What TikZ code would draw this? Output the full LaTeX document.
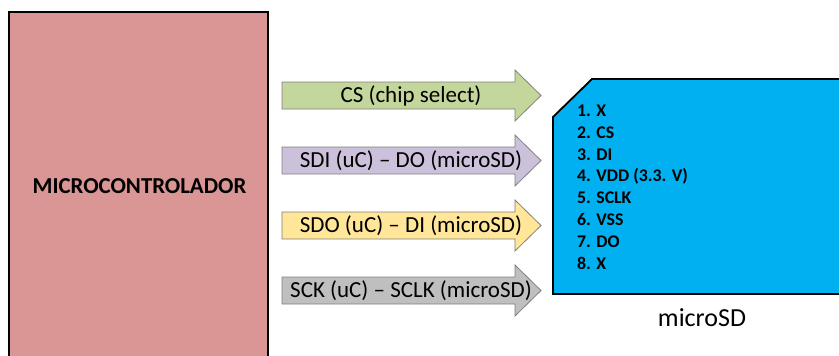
\documentclass[tikz,border=0pt]{standalone}
\usepackage{fontspec}
\setmainfont{Carlito}
\definecolor{mcured}{HTML}{D99694}
\definecolor{sdblue}{HTML}{00B0F0}
\definecolor{csgreen}{HTML}{C3D69B}
\definecolor{sdipurple}{HTML}{CCC1DA}
\definecolor{sdoyellow}{HTML}{FFE699}
\definecolor{sckgray}{HTML}{BFBFBF}
\definecolor{arrowedge}{HTML}{7F7F7F}
\tikzset{
  sigarrow/.style={draw=arrowedge, line width=0.8pt, line join=miter},
  sigtext/.style={font=\fontsize{23}{26}\selectfont, inner sep=0pt},
}
% signal arrow: #1 name, #2 centre y, #3 fill, #4 label
\newcommand{\signalarrow}[4]{%
  \draw[sigarrow, fill=#3]
    (282,#2-13.5) -- (515,#2-13.5) -- (515,#2-25.5) -- (541,#2)
    -- (515,#2+25.5) -- (515,#2+13.5) -- (282,#2+13.5) -- cycle;
  \node[sigtext] (#1) at (411,#2) {#4};
}
\begin{document}
\begin{tikzpicture}[x=1pt,y=-1pt]
  \useasboundingbox (0,0) rectangle (839,356);
  \clip (0,0) rectangle (839,356);
  % microcontroller block
  \draw[fill=mcured, line width=2.5pt] (9,12) rectangle (268,370);
  \node[font=\fontsize{22.8}{26}\selectfont\bfseries] (mcu) at (139.5,186) {MICROCONTROLADOR};
  % SPI signals
  \signalarrow{cs}{95.5}{csgreen}{CS (chip select)}
  \signalarrow{sdi}{160.5}{sdipurple}{SDI (uC) – DO (microSD)}
  \signalarrow{sdo}{225.5}{sdoyellow}{SDO (uC) – DI (microSD)}
  \signalarrow{sck}{290.5}{sckgray}{SCK (uC) – SCLK (microSD)}
  % microSD card outline with clipped corner
  \draw[fill=sdblue, line width=1.8pt, line join=miter]
    (553,117) -- (592,79) -- (850,79) -- (850,294) -- (553,294) -- cycle;
  \node[anchor=north west, align=left, inner sep=0pt,
        font=\fontsize{17.8}{21.9}\selectfont\bfseries] (pins) at (577,104.5)
    {1. X\\2. CS\\3. DI\\4. VDD (3.3. V)\\5. SCLK\\6. VSS\\7. DO\\8. X};
  \node[font=\fontsize{26}{30}\selectfont] (sdlabel) at (702,318) {microSD};
\end{tikzpicture}
\end{document}
